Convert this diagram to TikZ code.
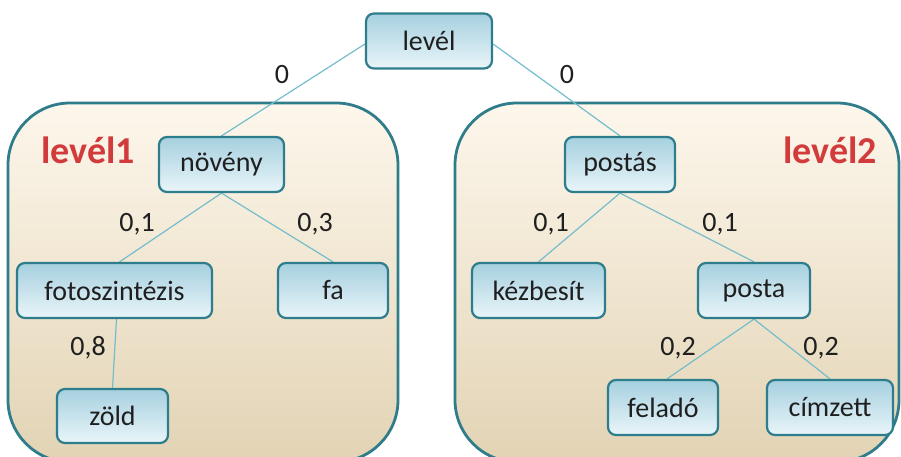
\documentclass[tikz,border=0pt]{standalone}
\usepackage{fontspec}
\setmainfont{Carlito}
\definecolor{nodetop}{HTML}{A6D0DF}
\definecolor{nodebot}{HTML}{E9F5F9}
\definecolor{nodeborder}{HTML}{2E7D8C}
\definecolor{paneltop}{HTML}{FDF7EC}
\definecolor{panelbot}{HTML}{E2D3B4}
\definecolor{panelborder}{HTML}{2F7C8A}
\definecolor{edgecol}{HTML}{74BDCC}
\definecolor{titlered}{HTML}{D13B3B}
\definecolor{txt}{HTML}{1F1F1F}
\pgfdeclarelayer{panel}
\pgfdeclarelayer{edges}
\pgfsetlayers{panel,edges,main}
\tikzset{
  box/.style={rectangle, rounded corners=8pt, draw=nodeborder, line width=2.2pt,
    top color=nodetop, bottom color=nodebot, minimum height=55pt, inner sep=0pt,
    text=txt, font=\fontsize{28}{32}\selectfont},
  panelbox/.style={draw=panelborder, line width=2.8pt, rounded corners=62pt,
    top color=paneltop, bottom color=panelbot},
  link/.style={draw=edgecol, line width=1.2pt},
  weight/.style={text=txt, font=\fontsize{28}{32}\selectfont, inner sep=0pt},
  paneltitle/.style={text=titlered, font=\fontsize{38}{42}\selectfont\bfseries, inner sep=0pt, anchor=base}
}
\begin{document}
\begin{tikzpicture}[x=1pt,y=-1pt]
\useasboundingbox (0,0) rectangle (901,457);
\clip (0,0) rectangle (901,457);
\begin{pgfonlayer}{panel}
\path[panelbox] (8,103) rectangle (398,462);
\path[panelbox] (455,103) rectangle (899,462);
\end{pgfonlayer}
\node[paneltitle] (t1) at (88,164) {levél1};
\node[paneltitle] (t2) at (830,164) {levél2};

\node[box, minimum width=126pt] (lev) at (429,41) {levél};
\node[box, minimum width=125pt] (nov) at (221.5,164.5) {növény};
\node[box, minimum width=195pt] (foto) at (114.5,290.5) {fotoszintézis};
\node[box, minimum width=110pt] (fa) at (333,290.5) {fa};
\node[box, minimum width=111pt, minimum height=54pt] (zold) at (112.5,416) {zöld};
\node[box, minimum width=110pt] (postas) at (620,164.5) {postás};
\node[box, minimum width=133pt] (kez) at (538.5,290.5) {kézbesít};
\node[box, minimum width=112pt] (posta) at (754,290.5) {posta};
\node[box, minimum width=110pt] (felado) at (663,407.5) {feladó};
\node[box, minimum width=126pt] (cimzett) at (830,407.5) {címzett};

\begin{pgfonlayer}{edges}
\draw[link] ([yshift=-3pt]lev.west) -- (nov.north);
\draw[link] ([yshift=-3pt]lev.east) -- (postas.north);
\draw[link] (nov.south) -- ([xshift=5pt]foto.north);
\draw[link] (nov.south) -- (fa.north);
\draw[link] ([xshift=2pt]foto.south) -- (zold.north);
\draw[link] (postas.south) -- (kez.north);
\draw[link] (postas.south) -- (posta.north);
\draw[link] (posta.south) -- ([xshift=4pt]felado.north);
\draw[link] (posta.south) -- (cimzett.north);
\end{pgfonlayer}

\node[weight] (w1) at (282,75) {0};
\node[weight] (w2) at (567,75) {0};
\node[weight] (w3) at (137,224) {0,1};
\node[weight] (w4) at (315,224) {0,3};
\node[weight] (w5) at (88,348) {0,8};
\node[weight] (w6) at (551,224) {0,1};
\node[weight] (w7) at (720,224) {0,1};
\node[weight] (w8) at (678,348) {0,2};
\node[weight] (w9) at (821,348) {0,2};
\end{tikzpicture}
\end{document}
